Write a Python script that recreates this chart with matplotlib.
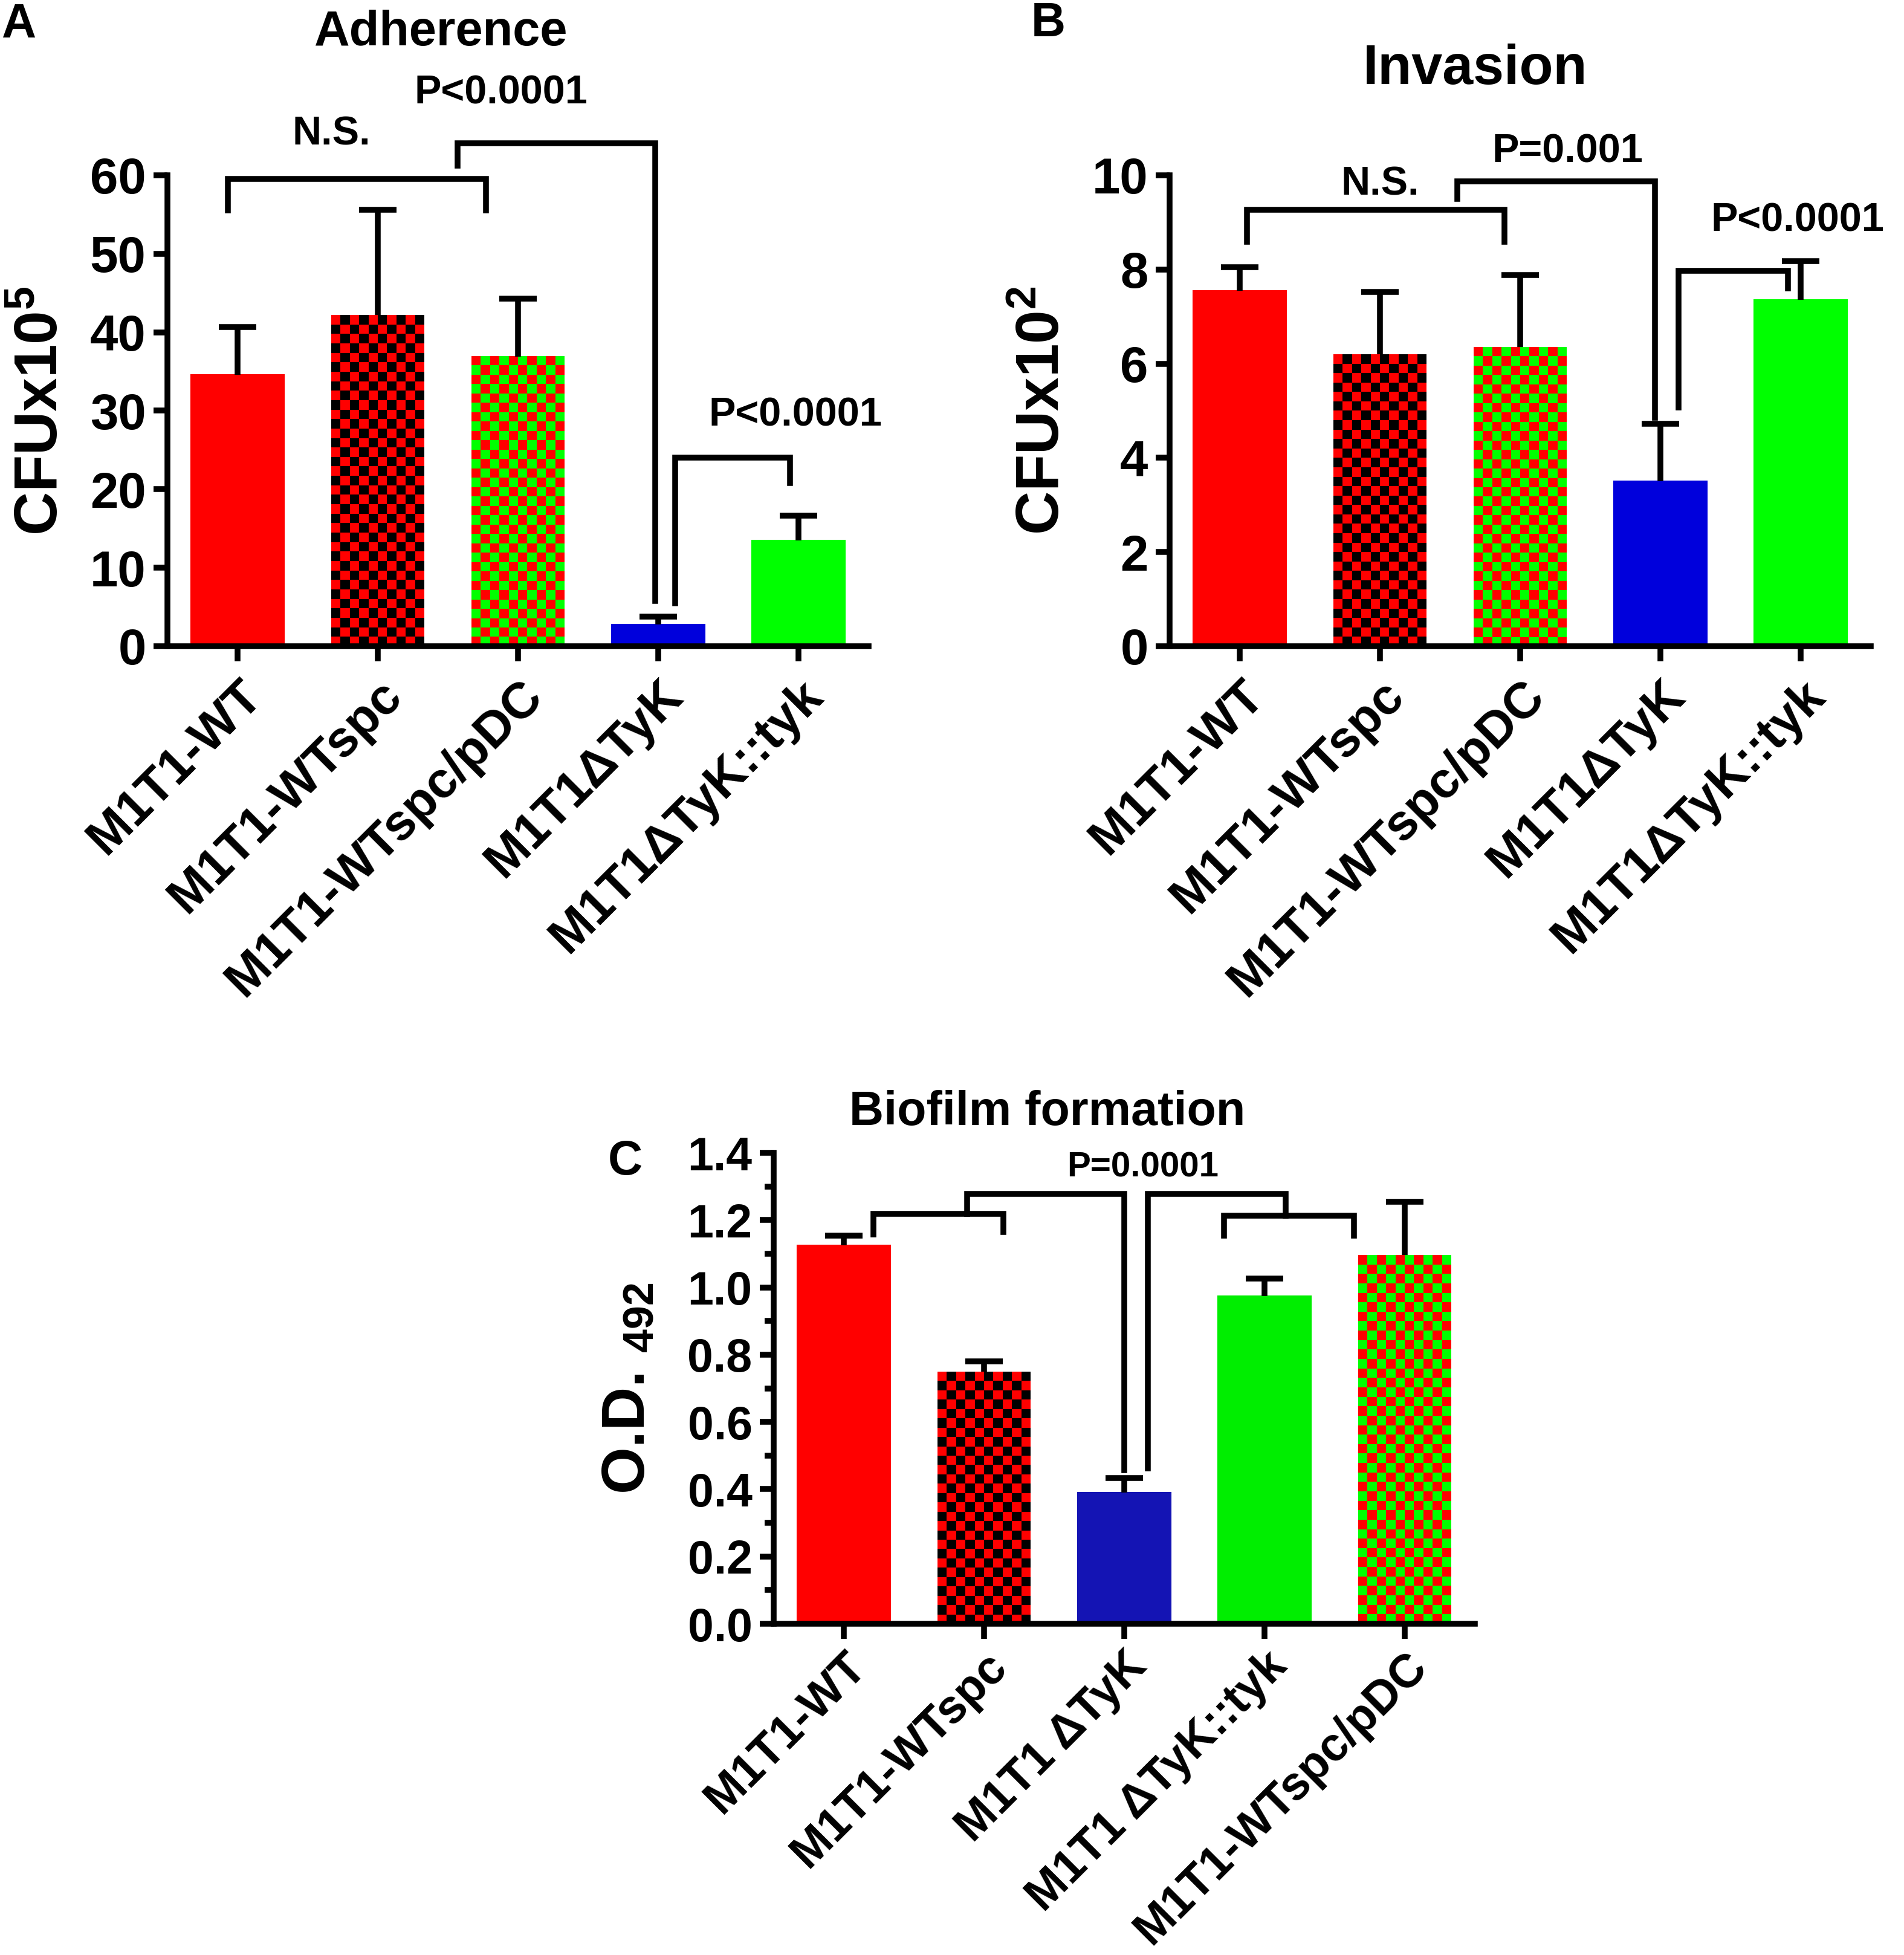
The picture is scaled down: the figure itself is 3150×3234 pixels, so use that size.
import numpy as np
import matplotlib.pyplot as plt
from matplotlib.colors import ListedColormap

plt.rcParams['font.family'] = ['Liberation Sans', 'DejaVu Sans']
plt.rcParams['font.weight'] = 'bold'
plt.rcParams['mathtext.fontset'] = 'custom'
plt.rcParams['mathtext.rm'] = 'Liberation Sans:bold'
plt.rcParams['mathtext.it'] = 'Liberation Sans:bold'
plt.rcParams['mathtext.bf'] = 'Liberation Sans:bold'

# ---- data ----
labels_ab = ["M1T1-WT", "M1T1-WTspc", "M1T1-WTspc/pDC", "M1T1\u0394TyK", "M1T1\u0394TyK::tyk"]
labels_c = ["M1T1-WT", "M1T1-WTspc", "M1T1 \u0394TyK", "M1T1 \u0394TyK::tyk", "M1T1-WTspc/pDC"]

adh_mean = [34.6, 42.2, 36.9, 2.8, 13.5]
adh_err = [6.1, 13.4, 7.4, 1.0, 3.1]

inv_mean = [7.55, 6.2, 6.35, 3.5, 7.35]
inv_err = [0.5, 1.32, 1.53, 1.22, 0.83]

bio_mean = [1.125, 0.749, 0.39, 0.974, 1.096]
bio_err = [0.028, 0.031, 0.044, 0.053, 0.159]

styles_ab = ["red", "red_black", "red_green", "blue", "green"]
styles_c = ["red", "red_black", "blue", "green", "red_green"]

# brackets: x_left, x_right, y_top, y_left_end, y_right_end
adh_brackets = [(-0.07, 1.77, 59.5, 55.5, 55.5),
                (1.57, 2.98, 64.1, 61.2, 5.8),
                (3.12, 3.94, 24.0, 5.5, 20.8)]
adh_notes = [("N.S.", 0.67, 65.2), ("P<0.0001", 1.88, 70.4), ("P<0.0001", 3.98, 29.4)]

inv_brackets = [(0.05, 1.89, 9.27, 8.59, 8.59),
                (1.55, 2.96, 9.87, 9.5, 4.85),
                (3.13, 3.91, 7.97, 5.07, 7.6)]
inv_notes = [("N.S.", 1.0, 9.8), ("P=0.001", 2.34, 10.5), ("P<0.0001", 3.98, 9.03)]

bio_brackets = [(0.21, 1.14, 1.219, 1.158, 1.164),
                (0.88, 2.0, 1.277, 1.219, 0.456),
                (2.17, 3.15, 1.277, 0.461, 1.213),
                (2.71, 3.64, 1.213, 1.153, 1.153)]
bio_notes = [("P=0.0001", 2.13, 1.356)]

COLORS = {"red": "#FF0000", "blue": "#0000DC", "green": "#00FF00", "black": "#000000"}
CHECKS = {"red_black": ("#FF0000", "#000000"), "red_green": ("#FF0000", "#00FF00")}

LW = 2.3
BAR_W = 0.66


def draw_panel(ax, labels, means, errs, styles, ymax, ystep, ylabel, title, title_xy,
               title_size, brackets, notes, note_size, tick_size, xlab_size, blue="#0000DC",
               green="#00FF00", minor=None, labelpad=8, ylab_size=24, xpad=4):
    xs = np.arange(len(means))
    means = np.asarray(means)
    errs = np.asarray(errs)
    fig = ax.figure
    ax_h_px = ax.get_position().height * fig.get_figheight() * fig.dpi
    cell_px = 15.5
    for x, m, st in zip(xs, means, styles):
        if st in CHECKS:
            rows = max(1, int(round(m / ymax * ax_h_px / cell_px)))
            board = np.indices((rows, 10)).sum(axis=0) % 2
            ax.imshow(board, extent=(x - BAR_W / 2, x + BAR_W / 2, 0, m),
                      cmap=ListedColormap(list(CHECKS[st])), interpolation="nearest",
                      aspect="auto", zorder=2)
        else:
            col = {"red": COLORS["red"], "blue": blue, "green": green}[st]
            ax.bar(x, m, width=BAR_W, color=col, edgecolor=col, linewidth=0.5, zorder=2)
    # upper error bars
    ax.vlines(xs, means, means + errs, color="black", lw=LW, zorder=3)
    ax.plot(xs, means + errs, ls="none", marker="_", ms=15, mew=LW, color="black", zorder=3)

    for x1, x2, yt, b1, b2 in brackets:
        ax.plot([x1, x1, x2, x2], [b1, yt, yt, b2], color="black", lw=LW,
                clip_on=False, zorder=4, solid_joinstyle="miter")
    for txt, tx, ty in notes:
        ax.text(tx, ty, txt, ha="center", va="center", fontsize=note_size,
                fontweight="bold", clip_on=False)
    ax.text(title_xy[0], title_xy[1], title, ha="center", va="center",
            fontsize=title_size, fontweight="bold", clip_on=False)

    ax.set_xlim(-0.5, 4.5)
    ax.set_ylim(0, ymax)
    ax.set_yticks(np.arange(0, ymax + ystep / 2, ystep))
    if minor is not None:
        ax.set_yticks(np.arange(0, ymax + minor / 2, minor), minor=True)
    ax.set_xticks(xs)
    ax.set_xticklabels(labels, rotation=45, ha="right", rotation_mode="anchor",
                       fontsize=xlab_size, fontweight="bold")
    for lab in ax.get_yticklabels():
        lab.set_fontweight("bold")
    ax.tick_params(axis="y", labelsize=tick_size, width=LW, length=5.5, pad=3)
    ax.tick_params(axis="y", which="minor", width=LW, length=3.5)
    ax.tick_params(axis="x", width=LW, length=6, pad=xpad)
    ax.spines["top"].set_visible(False)
    ax.spines["right"].set_visible(False)
    ax.spines["left"].set_linewidth(LW)
    ax.spines["bottom"].set_linewidth(LW)
    ax.set_ylabel(ylabel, fontsize=ylab_size, fontweight="bold", labelpad=labelpad)


fig = plt.figure(figsize=(10.5, 10.78), dpi=300)
W, H = 3150.0, 3234.0
ax_a = fig.add_axes([277 / W, 1 - 1069 / H, 1160 / W, 779 / H])
ax_b = fig.add_axes([1935 / W, 1 - 1069 / H, 1160 / W, 779 / H])
ax_c = fig.add_axes([1280 / W, 1 - 2686 / H, 1160 / W, 779 / H])

draw_panel(ax_a, labels_ab, adh_mean, adh_err, styles_ab, 60, 10, r"CFUx10$^{5}$",
           "Adherence", (1.45, 78.2), 19.5, adh_brackets, adh_notes, 16, 20, 20)
draw_panel(ax_b, labels_ab, inv_mean, inv_err, styles_ab, 10, 2, r"CFUx10$^{2}$",
           "Invasion", (1.68, 12.25), 22, inv_brackets, inv_notes, 16, 20, 20)
draw_panel(ax_c, labels_c, bio_mean, bio_err, styles_c, 1.4, 0.2, r"O.D. $_{492}$",
           "Biofilm formation", (1.45, 1.52), 19, bio_brackets, bio_notes, 14, 18.5, 18.5,
           blue="#1414B4", green="#00EE00", minor=0.1, labelpad=12, ylab_size=24, xpad=2)

fig.text(31 / W, 1 - 42 / H, "A", fontsize=19, fontweight="bold", ha="center", va="center")
fig.text(1734 / W, 1 - 40 / H, "B", fontsize=19, fontweight="bold", ha="center", va="center")
fig.text(1034 / W, 1 - 1922 / H, "C", fontsize=19, fontweight="bold", ha="center", va="center")

fig.savefig("out.png", dpi=300)
